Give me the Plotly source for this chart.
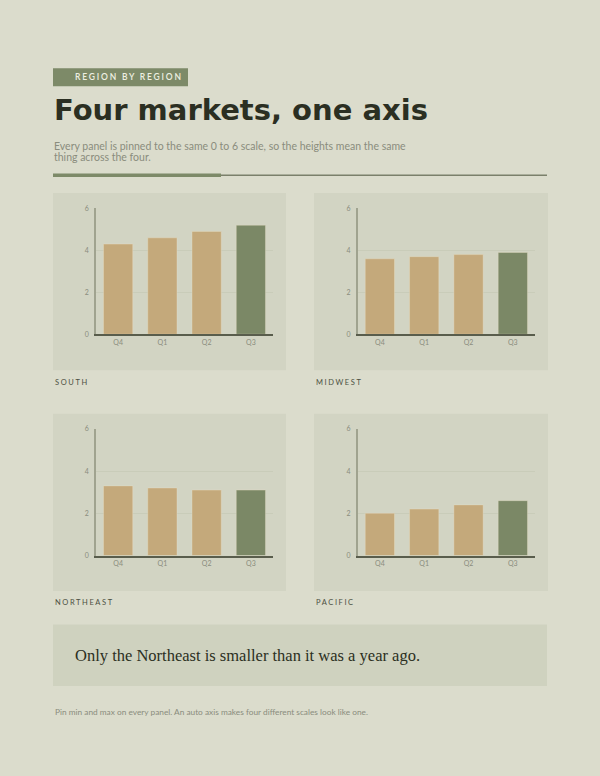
import plotly.graph_objects as go

W, H = 600, 776

quarters = ["Q4", "Q1", "Q2", "Q3"]
regions = ["SOUTH", "MIDWEST", "NORTHEAST", "PACIFIC"]
south = [4.3, 4.6, 4.9, 5.2]
midwest = [3.6, 3.7, 3.8, 3.9]
northeast = [3.3, 3.2, 3.1, 3.1]
pacific = [2.0, 2.2, 2.4, 2.6]
y_ticks = [0, 2, 4, 6]

PAGE = "#dbdccc"
PANEL = "#d2d4c3"
TAN = "#c4a97b"
GREEN = "#7b8866"
INK = "#2b2f22"
MUTED = "#8a8c7d"
SANS = "Lato, 'Open Sans', sans-serif"


def px_x(v):
    return v / W


def px_y(v):
    return 1 - v / H


def spaced(text, px):
    return f'<span style="letter-spacing:{px}px">{text}</span>'


# panel boxes in pixels: (left, top, right, bottom) and plot areas inside
panels = [
    dict(box=(53, 190, 286, 369), plot=(96, 205.6, 273, 332.7), values=south),
    dict(box=(314, 190, 548, 369), plot=(357.7, 205.6, 535, 332.7), values=midwest),
    dict(box=(53, 413, 286, 592), plot=(96, 428.3, 273, 556.3), values=northeast),
    dict(box=(314, 413, 548, 592), plot=(357.7, 428.3, 535, 556.3), values=pacific),
]

fig = go.Figure()
shapes = []
annotations = []

for i, (name, p) in enumerate(zip(regions, panels)):
    n = "" if i == 0 else str(i + 1)
    colors = [TAN] * (len(quarters) - 1) + [GREEN]
    fig.add_trace(go.Bar(
        x=quarters, y=p["values"], xaxis="x" + n, yaxis="y" + n,
        marker=dict(color=colors, line=dict(width=1, color="rgba(235,225,200,0.35)")),
        hoverinfo="x+y", showlegend=False,
    ))
    l, t, r, b = p["plot"]
    fig.layout["xaxis" + n] = dict(
        domain=[px_x(l), px_x(r)], anchor="y" + n, type="category",
        range=[-0.5, len(quarters) - 0.5], showgrid=False,
        showline=True, linecolor="#595d4c", linewidth=2,
        ticks="", tickfont=dict(family=SANS, size=7, color=MUTED),
        fixedrange=True,
    )
    fig.layout["yaxis" + n] = dict(
        domain=[px_y(b), px_y(t)], anchor="x" + n, range=[0, 6],
        tickvals=y_ticks, showgrid=True, gridcolor="#c9ccb9", gridwidth=1,
        zeroline=False, showline=True, linecolor="#a0a38f", linewidth=1.5,
        ticks="", ticklabelstandoff=4,
        tickfont=dict(family=SANS, size=7, color=MUTED), fixedrange=True,
    )
    bl, bt, br, bb = p["box"]
    shapes.append(dict(type="rect", xref="paper", yref="paper", layer="below",
                       x0=px_x(bl), x1=px_x(br), y0=px_y(bb), y1=px_y(bt),
                       fillcolor=PANEL, line=dict(width=0)))
    annotations.append(dict(text=spaced(name, 1.6), xref="paper", yref="paper",
                            x=px_x(bl), y=px_y(bb + 12), xanchor="left", yanchor="middle",
                            showarrow=False,
                            font=dict(family=SANS, size=7.5, color="#4c5042")))

# header tag
shapes.append(dict(type="rect", xref="paper", yref="paper", layer="below",
                   x0=px_x(53), x1=px_x(188), y0=px_y(82), y1=px_y(64),
                   fillcolor="#7d8a68", line=dict(width=0)))
annotations.append(dict(text=spaced("REGION BY REGION", 1.8), xref="paper", yref="paper",
                        x=px_x(73), y=px_y(73), xanchor="left", yanchor="middle",
                        showarrow=False,
                        font=dict(family=SANS, size=8.5, color="#eef0e2", weight=600)))

# title and subtitle
annotations.append(dict(text="<b>Four markets, one axis</b>", xref="paper", yref="paper",
                        x=px_x(52), y=px_y(106), xanchor="left", yanchor="middle",
                        showarrow=False,
                        font=dict(family="'DejaVu Sans', sans-serif", size=29, color=INK)))
subtitle_lines = ["Every panel is pinned to the same 0 to 6 scale, so the heights mean the same",
                  "thing across the four."]
for k, line in enumerate(subtitle_lines):
    annotations.append(dict(text=line, xref="paper", yref="paper",
                            x=px_x(52), y=px_y(142.5 + 11.5 * k), xanchor="left", yanchor="middle",
                            showarrow=False,
                            font=dict(family=SANS, size=10.5, color=MUTED)))

# rule under header
shapes.append(dict(type="line", xref="paper", yref="paper",
                   x0=px_x(221), x1=px_x(547), y0=px_y(172), y1=px_y(172),
                   line=dict(color="#7b806b", width=1.5)))
shapes.append(dict(type="line", xref="paper", yref="paper",
                   x0=px_x(53), x1=px_x(221), y0=px_y(172), y1=px_y(172),
                   line=dict(color="#7d8a68", width=3.5)))

# callout
shapes.append(dict(type="rect", xref="paper", yref="paper", layer="below",
                   x0=px_x(53), x1=px_x(547), y0=px_y(688), y1=px_y(626),
                   fillcolor="#cfd2bf", line=dict(width=0)))
annotations.append(dict(text="Only the Northeast is smaller than it was a year ago.",
                        xref="paper", yref="paper", x=px_x(73), y=px_y(657),
                        xanchor="left", yanchor="middle", showarrow=False,
                        font=dict(family="'Liberation Serif', serif", size=16.5, color=INK)))

# footer note
annotations.append(dict(text="Pin min and max on every panel. An auto axis makes four different scales look like one.",
                        xref="paper", yref="paper", x=px_x(53), y=px_y(714),
                        xanchor="left", yanchor="middle", showarrow=False,
                        font=dict(family=SANS, size=8.3, color=MUTED)))

fig.update_layout(
    width=W, height=H, margin=dict(l=0, r=0, t=0, b=0),
    paper_bgcolor=PAGE, plot_bgcolor="rgba(0,0,0,0)",
    bargap=0.34, shapes=shapes, annotations=annotations,
    hoverlabel=dict(font=dict(family=SANS)),
)

# drop the browser's default body margin so the page fills the window
fig.write_html("out.html", config={"displayModeBar": False},
               post_script="document.body.style.margin='0';"
                           "document.body.style.background='" + PAGE + "';")
